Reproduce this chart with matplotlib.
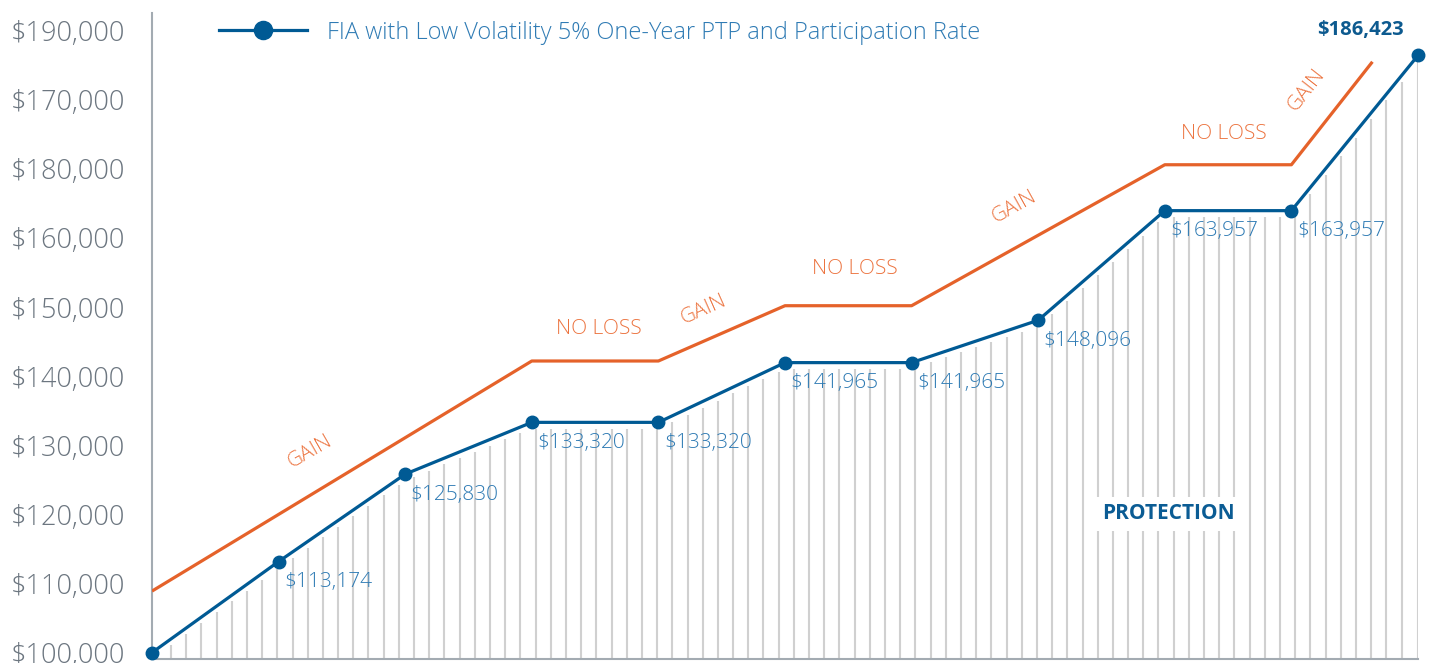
import numpy as np
import matplotlib
matplotlib.use("Agg")
import matplotlib.pyplot as plt

# ---------------- data ----------------
years = [0, 1, 2, 3, 4, 5, 6, 7, 8, 9, 10]
fia_values = [100000, 113174, 125830, 133320, 133320, 141965, 141965,
              148096, 163957, 163957, 186423]
labeled_years = [1, 2, 3, 4, 5, 6, 7, 8, 9]
orange_years = [0, 3, 4, 5, 6, 8, 9, 9.64]
orange_values = [108900, 142200, 142200, 150200, 150200, 170600, 170600, 185500]
ytick_values = [100000, 110000, 120000, 130000, 140000, 150000,
                160000, 170000, 180000, 190000]
ytick_labels = ["$100,000", "$110,000", "$120,000", "$130,000", "$140,000",
                "$150,000", "$160,000", "$180,000", "$170,000", "$190,000"]
phase_labels = ["GAIN", "NO LOSS", "GAIN", "NO LOSS", "GAIN", "NO LOSS", "GAIN"]
phase_x = [1.25, 3.53, 4.36, 5.55, 6.81, 8.47, 9.12]
phase_y = [129030, 146820, 149580, 155510, 164490, 175060, 181420]
phase_rot = [30, 0, 24, 0, 29, 0, 52]
legend_label = "FIA with Low Volatility 5% One-Year PTP and Participation Rate"

# ---------------- style ----------------
FONT = "Open Sans"
BLUE = "#005a94"
BLUE_TXT = "#2f7bb4"
ORANGE = "#e5622a"
ORANGE_TXT = "#ec7440"
GRAY_TXT = "#6c7680"
AXIS = "#a3abb2"
HATCH = "#d0d0d0"
LIGHT = 300

plt.rcParams['font.family'] = [FONT, 'DejaVu Sans']

W, H = 1429, 663
fig = plt.figure(figsize=(W / 100, H / 100), dpi=100)
ax = fig.add_axes([152 / W, (H - 659) / H, (1418 - 152) / W, (659 - 13) / H])
ax.set_xlim(0, 10)
ax.set_ylim(99075, 192560)

for s in ["top", "right"]:
    ax.spines[s].set_visible(False)
for s in ["left", "bottom"]:
    ax.spines[s].set_color(AXIS)
    ax.spines[s].set_linewidth(1.5)

# hatch lines under the blue line
hx = np.append(np.arange(0.15, 9.9, 0.12), 10.0)
htop = np.interp(hx, years, fia_values) - 900
ax.vlines(hx, ax.get_ylim()[0], htop, colors=HATCH, linewidth=1.5, zorder=1)

# orange line
ax.plot(orange_years, orange_values, color=ORANGE, linewidth=2.3,
        solid_capstyle='butt', zorder=3)

# blue line with markers
ax.plot(years, fia_values, color=BLUE, linewidth=2.3, marker='o',
        markersize=9, zorder=4, clip_on=False, label=legend_label)

# point labels
for yr in labeled_years:
    v = fia_values[yr]
    ax.annotate(f"${v:,.0f}", (yr, v), xytext=(4, -15),
                textcoords='offset points', ha='left', va='center',
                fontsize=15, fontweight=LIGHT, color=BLUE_TXT, zorder=5)
ax.annotate(f"${fia_values[-1]:,.0f}", (years[-1], fia_values[-1]),
            xytext=(-10, 18), textcoords='offset points', ha='right',
            va='center', fontsize=14.5, fontweight='bold', color="#0d5a8f",
            zorder=5, annotation_clip=False)

# phase labels
for t, x, y, r in zip(phase_labels, phase_x, phase_y, phase_rot):
    ax.text(x, y, t, rotation=r, ha='center', va='center', fontsize=15,
            fontweight=LIGHT, color=ORANGE_TXT, rotation_mode='anchor', zorder=5)

ax.text(8.03, 120060, "PROTECTION", ha='center', va='center', fontsize=15,
        fontweight='bold', color="#0b5c94", zorder=6,
        bbox=dict(facecolor='white', edgecolor='none', pad=5))

# y ticks
ax.set_yticks(ytick_values)
ax.set_yticklabels(ytick_labels, fontweight=LIGHT)
ax.tick_params(axis='y', length=0, pad=19.5, labelsize=19.5, labelcolor=GRAY_TXT)
ax.set_xticks([])

leg = ax.legend(loc='upper left', bbox_to_anchor=(0.036, 1.021),
                frameon=False, prop=dict(size=17, weight=LIGHT),
                handlelength=3.75, handletextpad=0.85, labelcolor=BLUE_TXT,
                markerscale=1.45)

fig.savefig("out.png", dpi=100)
